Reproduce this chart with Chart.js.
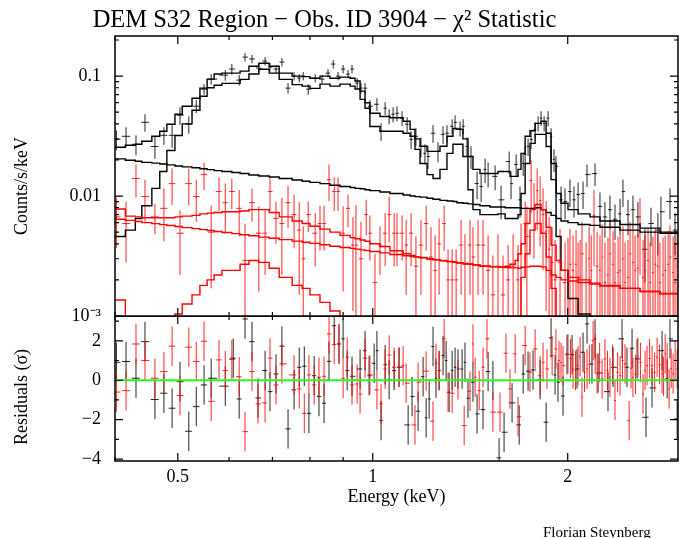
<!DOCTYPE html>
<html>
<head>
<meta charset="utf-8">
<script src="https://cdn.jsdelivr.net/npm/chart.js@4.4.0/dist/chart.umd.min.js"></script>
<style>
  body { margin: 0; background: #fff; }
  #wrap { position: relative; width: 679px; height: 538px; }
  #spec { position: absolute; left: 0; top: 0; }
  #resid { position: absolute; left: 0; top: 316px; }
</style>
</head>
<body>
<div id="wrap">
  <canvas id="spec" width="679" height="332"></canvas>
  <canvas id="resid" width="679" height="222"></canvas>
</div>
<script>
// axis ranges and tick marks
const eMin = 0.4, eMax = 2.96;
const eMajor = [0.5, 1, 2];
const eMinor = [0.4, 0.6, 0.7, 0.8, 0.9, 3];
const rateMajor = [0.001, 0.01, 0.1];
const rateMinor = [0.002, 0.003, 0.004, 0.005, 0.006, 0.007, 0.008, 0.009,
  0.02, 0.03, 0.04, 0.05, 0.06, 0.07, 0.08, 0.09, 0.2];
const resMajor = [-4, -2, 0, 2];
const resMinor = [-3, -1, 1, 3];

// model bin edges (keV)
const modelE = [0.400,0.415,0.430,0.440,0.456,0.469,0.481,0.495,0.508,0.526,0.541,0.555,0.569,0.585,0.606,0.624,0.644,0.667,0.692,0.717,
  0.751,0.778,0.800,0.829,0.859,0.890,0.923,0.939,0.956,0.973,0.990,1.026,1.063,1.114,1.142,1.162,1.183,1.213,1.239,1.270,
  1.302,1.330,1.349,1.378,1.403,1.428,1.464,1.517,1.561,1.601,1.629,1.659,1.676,1.694,1.719,1.749,1.781,1.819,1.852,1.885,
  1.919,1.953,2.002,2.075,2.165,2.243,2.408,2.586,2.776,2.960];

// obs 1 (black): total model, thermal component, power law
const blackTot = [0.0255,0.0265,0.027,0.0286,0.0315,0.0347,0.0397,0.0481,0.0561,0.0654,
  0.0794,0.0944,0.104,0.106,0.106,0.110,0.121,0.128,0.121,0.106,
  0.100,0.099,0.096,0.100,0.096,0.098,0.096,0.091,0.075,0.060,
  0.049,0.046,0.045,0.042,0.036,0.030,0.026,0.0236,0.0236,0.026,
  0.0315,0.0367,0.036,0.030,0.0214,0.0167,0.0154,0.0154,0.016,0.016,
  0.0146,0.0146,0.0167,0.0227,0.0315,0.035,0.0404,0.042,0.0334,0.0187,
  0.0105,0.0087,0.0077,0.0071,0.0067,0.0062,0.0058,0.0054,0.0050];
const blackSrc = [0.0046,0.0052,0.0065,0.0083,0.0116,0.016,0.024,0.032,0.040,0.052,
  0.068,0.080,0.084,0.087,0.087,0.094,0.104,0.114,0.106,0.094,
  0.085,0.0825,0.079,0.0857,0.0825,0.0857,0.0825,0.078,0.064,0.054,
  0.038,0.0347,0.0347,0.0334,0.0315,0.0245,0.0187,0.0151,0.0140,0.0167,
  0.0227,0.027,0.027,0.0214,0.0113,0.0077,0.0070,0.0070,0.0071,0.0065,
  0.0065,0.0065,0.0070,0.0105,0.0187,0.0275,0.0327,0.0327,0.0259,0.0137,
  0.0046,0.0024,0.0014,0.00104,0.0007,0.0004,0.0003,0.0002,0.0001];
const blackBkg = [0.0204,0.0199,0.0195,0.0191,0.0188,0.0185,0.0182,0.0178,0.0175,0.0172,
  0.0169,0.0166,0.0163,0.0160,0.0157,0.0154,0.0150,0.0147,0.0144,0.0140,
  0.0136,0.0133,0.0130,0.0127,0.0123,0.0120,0.0118,0.0116,0.0115,0.0113,
  0.0111,0.0108,0.0105,0.0102,0.0100,0.0099,0.0098,0.0096,0.0094,0.0092,
  0.0091,0.0090,0.0088,0.0087,0.0086,0.0085,0.0083,0.0081,0.0081,0.0080,
  0.0080,0.0080,0.0080,0.0079,0.0079,0.0079,0.0080,0.0077,0.0073,0.0069,
  0.0065,0.0062,0.0060,0.0058,0.0057,0.0055,0.0052,0.0050,0.0049];

// obs 2 (red): total model, thermal component, power law
const redTot = [0.0078,0.0068,0.0067,0.0066,0.0066,0.0066,0.0066,0.0067,0.0068,0.0069,
  0.0071,0.0072,0.0073,0.0074,0.0074,0.0075,0.0077,0.0077,0.0073,0.0067,
  0.0062,0.0059,0.0056,0.0053,0.0050,0.0047,0.0045,0.0044,0.0043,0.0042,
  0.0040,0.0038,0.0035,0.0033,0.0032,0.0031,0.00307,0.0030,0.00295,0.0029,
  0.00285,0.00282,0.00278,0.00274,0.00271,0.00267,0.00261,0.00258,0.00257,0.0026,
  0.0027,0.0029,0.0033,0.0040,0.0059,0.0077,0.0085,0.0077,0.0055,0.0039,
  0.0029,0.0024,0.0021,0.0020,0.00188,0.0018,0.0017,0.0016,0.00154];
const redSrc = [0.00136,0.0006,0.0004,0.0003,0.0003,0.0004,0.0007,0.00104,0.00126,0.0015,
  0.0018,0.0020,0.0022,0.0024,0.0024,0.0027,0.0029,0.0028,0.0025,0.0021,
  0.0018,0.0017,0.0015,0.0013,0.0011,0.0008,0.0006,0.0005,0.0005,0.0004,
  0.0004,0.0003,0.0003,0.0003,0.0003,0.0003,0.0003,0.0003,0.0003,0.0003,
  0.0003,0.0003,0.0003,0.0003,0.0003,0.0003,0.0003,0.0003,0.0003,0.0003,
  0.0003,0.0003,0.0008,0.0021,0.0033,0.0052,0.0059,0.0049,0.0031,0.0017,
  0.0008,0.0004,0.0003,0.0003,0.0003,0.0003,0.0003,0.0003,0.0003];
const redBkg = [0.00641,0.00627,0.00613,0.00601,0.00589,0.00578,0.00568,0.00558,0.00546,0.00535,
  0.00525,0.00516,0.00507,0.00497,0.00486,0.00476,0.00467,0.00455,0.00445,0.00433,
  0.00421,0.00412,0.00403,0.00393,0.00382,0.00373,0.00366,0.00361,0.00356,0.00352,
  0.00345,0.00336,0.00326,0.00318,0.00313,0.00309,0.00305,0.00299,0.00294,0.00289,
  0.00284,0.00281,0.00277,0.00273,0.00270,0.00266,0.00260,0.00257,0.00255,0.00253,
  0.00252,0.00252,0.00250,0.00255,0.00257,0.00260,0.00260,0.00257,0.00240,0.00220,
  0.00210,0.00200,0.00196,0.00190,0.00185,0.00178,0.00170,0.00160,0.00153];

// obs 1 data: bin centre (keV), rate, 1-sigma error
const blackE = [0.402,0.416,0.431,0.445,0.461,0.476,0.490,0.504,0.520,0.534,
  0.549,0.563,0.592,0.606,0.622,0.635,0.651,0.667,0.682,0.694,
  0.709,0.724,0.740,0.756,0.770,0.781,0.795,0.815,0.835,0.853,
  0.869,0.884,0.900,0.916,0.929,0.946,0.959,0.973,0.990,1.015,
  1.030,1.045,1.060,1.075,1.090,1.110,1.130,1.146,1.166,1.187,
  1.204,1.217,1.239,1.261,1.284,1.302,1.326,1.340,1.364,1.379,
  1.398,1.418,1.449,1.470,1.491,1.507,1.545,1.578,1.624,1.635,
  1.665,1.688,1.707,1.719,1.737,1.756,1.781,1.800,1.819,1.839,
  1.865,1.885,1.905,1.918,1.953,1.981,2.016,2.045,2.075,2.112,
  2.142,2.204,2.243,2.283,2.324,2.366,2.409,2.434,2.478,2.522,
  2.567,2.632,2.689,2.756,2.786,2.877,2.929];
const blackRate = [0.0297,0.0315,0.0270,0.0412,0.0259,0.0321,0.0321,0.0472,0.0397,0.0561,
  0.0778,0.0944,0.1019,0.1145,0.0926,0.144,0.139,0.1167,0.1335,0.1189,
  0.1145,0.131,0.0794,0.100,0.0963,0.100,0.0778,0.0963,0.0944,0.1059,
  0.126,0.100,0.1145,0.104,0.1145,0.0874,0.0794,0.0794,0.0561,0.0583,
  0.0347,0.054,0.0463,0.0481,0.049,0.0446,0.0397,0.0297,0.0315,0.0259,
  0.0227,0.0214,0.0334,0.0236,0.0327,0.0334,0.0382,0.0412,0.0367,0.0382,
  0.0259,0.0214,0.0127,0.0120,0.0167,0.0154,0.0146,0.0093,0.0194,0.0127,
  0.0183,0.0093,0.0187,0.0222,0.0259,0.0297,0.036,0.0404,0.0446,0.0404,
  0.0446,0.0315,0.0202,0.0177,0.0093,0.0090,0.0109,0.0093,0.0103,0.0105,
  0.0151,0.0154,0.0082,0.0067,0.0077,0.0064,0.0071,0.0109,0.0070,0.0077,
  0.0067,0.0036,0.0059,0.0052,0.0074,0.0090,0.0052];
const blackErr = [0.0056,0.0060,0.0051,0.0069,0.0055,0.0054,0.0068,0.0079,0.0066,0.0069,
  0.0079,0.0095,0.0103,0.0116,0.0094,0.0115,0.0111,0.0093,0.0107,0.0095,
  0.0092,0.0105,0.0080,0.0080,0.0077,0.0080,0.0079,0.0077,0.0076,0.0085,
  0.0101,0.0080,0.0092,0.0083,0.0092,0.0088,0.0080,0.0080,0.0069,0.0072,
  0.0058,0.0066,0.0067,0.0069,0.0071,0.0064,0.0057,0.0050,0.0053,0.0049,
  0.0043,0.0046,0.0056,0.0045,0.0055,0.0056,0.0055,0.0059,0.0053,0.0055,
  0.0049,0.0046,0.0033,0.0031,0.0039,0.0036,0.0034,0.0029,0.0041,0.0033,
  0.0039,0.0027,0.0040,0.0042,0.0043,0.0050,0.0052,0.0058,0.0064,0.0058,
  0.0064,0.0053,0.0043,0.0038,0.0027,0.0026,0.0028,0.0027,0.0027,0.0027,
  0.0032,0.0033,0.0025,0.0022,0.0024,0.0021,0.0024,0.0028,0.0023,0.0024,
  0.0022,0.0017,0.0021,0.0020,0.0025,0.0026,0.0020];

// obs 2 data
const redE = [0.402,0.416,0.431,0.445,0.461,0.476,0.490,0.504,0.520,0.534,
  0.549,0.563,0.579,0.592,0.606,0.622,0.635,0.651,0.667,0.682,
  0.694,0.709,0.724,0.740,0.756,0.770,0.781,0.795,0.815,0.829,
  0.841,0.856,0.872,0.884,0.900,0.916,0.932,0.942,0.959,0.977,
  0.990,1.008,1.026,1.045,1.060,1.079,1.090,1.110,1.126,1.146,
  1.166,1.187,1.209,1.230,1.248,1.266,1.289,1.307,1.326,1.345,
  1.369,1.388,1.413,1.428,1.454,1.480,1.507,1.533,1.561,1.589,
  1.618,1.647,1.676,1.694,1.719,1.730,1.756,1.774,1.794,1.813,
  1.832,1.852,1.872,1.892,1.912,1.946,1.981,2.002,2.016,2.038,
  2.060,2.075,2.090,2.104,2.135,2.158,2.174,2.196,2.220,2.243,
  2.260,2.283,2.308,2.324,2.350,2.366,2.392,2.409,2.434,2.452,
  2.478,2.496,2.522,2.541,2.567,2.586,2.614,2.632,2.661,2.680,
  2.708,2.729,2.756,2.776,2.807,2.828,2.858,2.877,2.909,2.929,
  2.951];
const redRate = [0.0067,0.0059,0.0140,0.0099,0.0067,0.0079,0.0127,0.0049,0.0127,0.0099,
  0.0151,0.0050,0.0109,0.0088,0.0109,0.0079,0.0029,0.0088,0.0049,0.0049,
  0.0109,0.0065,0.0059,0.0088,0.0070,0.0052,0.0030,0.0070,0.0049,0.0059,
  0.0059,0.0137,0.0109,0.0109,0.0049,0.0079,0.0039,0.0039,0.0030,0.0070,
  0.0049,0.0019,0.0039,0.0049,0.0070,0.0049,0.0049,0.0049,0.0039,0.0049,
  0.0026,0.0039,0.0059,0.0031,0.0024,0.0040,0.0059,0.0020,0.0020,0.0020,
  0.0039,0.0027,0.0039,0.0031,0.0039,0.0039,0.0024,0.0015,0.0026,0.0015,
  0.0020,0.0026,0.0020,0.0033,0.0059,0.0046,0.0135,0.0079,0.0111,0.0092,
  0.0070,0.0051,0.0036,0.0028,0.0020,0.0028,0.0019,0.0022,0.0027,0.0024,
  0.0027,0.0019,0.0021,0.0033,0.0019,0.0030,0.0024,0.0069,0.0026,0.0024,
  0.0031,0.0019,0.0022,0.0033,0.0027,0.0019,0.0023,0.0024,0.0030,0.0019,
  0.0021,0.0033,0.0028,0.0024,0.0025,0.0059,0.0021,0.0024,0.0029,0.0019,
  0.0023,0.0027,0.0026,0.0019,0.0022,0.0024,0.0027,0.0031,0.0023,0.0019,
  0.0026];
const redErr = [0.0030,0.0031,0.0043,0.0038,0.0019,0.0037,0.0043,0.0027,0.0043,0.0038,
  0.0039,0.0033,0.0034,0.0039,0.0031,0.0033,0.0030,0.0027,0.0033,0.0027,
  0.0034,0.0025,0.0037,0.0034,0.0033,0.0037,0.0026,0.0020,0.0023,0.0024,
  0.0024,0.0046,0.0034,0.0034,0.0033,0.0024,0.0028,0.0045,0.0031,0.0023,
  0.0020,0.0014,0.0017,0.0023,0.0029,0.0023,0.0023,0.0020,0.0024,0.0023,
  0.0020,0.0024,0.0024,0.0024,0.0023,0.0025,0.0024,0.0016,0.0016,0.0016,
  0.0024,0.0021,0.0024,0.0024,0.0024,0.0024,0.0023,0.0017,0.0022,0.0017,
  0.0019,0.0022,0.0019,0.0026,0.0031,0.0036,0.0063,0.0049,0.0059,0.0054,
  0.0046,0.0040,0.0031,0.0027,0.0023,0.0025,0.0022,0.0023,0.0026,0.0023,
  0.0025,0.0022,0.0022,0.0028,0.0022,0.0026,0.0023,0.0043,0.0024,0.0023,
  0.0027,0.0022,0.0023,0.0028,0.0024,0.0022,0.0023,0.0023,0.0026,0.0022,
  0.0022,0.0028,0.0025,0.0023,0.0024,0.0037,0.0022,0.0023,0.0025,0.0022,
  0.0023,0.0026,0.0024,0.0022,0.0023,0.0023,0.0024,0.0026,0.0023,0.0022,
  0.0024];

// residuals in sigma
const blackResE = [0.402,0.416,0.431,0.445,0.461,0.476,0.490,0.504,0.520,0.534,
  0.549,0.563,0.592,0.609,0.622,0.635,0.651,0.665,0.682,0.694,
  0.709,0.724,0.740,0.756,0.770,0.784,0.797,0.812,0.826,0.841,
  0.856,0.872,0.887,0.900,0.913,0.929,0.956,0.973,0.987,1.005,
  1.015,1.030,1.045,1.060,1.079,1.098,1.134,1.150,1.175,1.196,
  1.209,1.222,1.239,1.252,1.266,1.284,1.298,1.312,1.326,1.340,
  1.354,1.374,1.388,1.403,1.428,1.449,1.480,1.507,1.533,1.567,
  1.595,1.641,1.683,1.707,1.737,1.768,1.813,1.852,1.885,1.912,
  1.932,1.967,1.995,2.031,2.067,2.112,2.142,2.180,2.204,2.228,
  2.308,2.350,2.426,2.469,2.514,2.559,2.642,2.699,2.797,2.848,
  2.877,2.951];
const blackRes = [0.91,0.95,0.10,1.96,-0.98,-0.66,-1.42,-0.07,-2.59,-1.34,
  -0.24,0.10,-0.30,1.12,-0.95,3.11,1.96,-0.90,0.49,-0.58,
  0.32,1.73,-2.47,-0.49,0.66,0.71,-1.68,0.23,-0.83,-1.17,
  0.96,2.77,1.84,2.10,0.49,0.20,0.57,1.50,0.23,0.86,
  1.50,-2.05,0.79,0.03,0.49,0.66,-2.27,-0.83,-1.57,0.18,
  -1.91,-0.95,1.71,0.10,0.49,1.25,1.00,-0.61,0.49,0.66,
  0.57,0.57,0.91,-0.91,-0.10,-1.71,-1.49,0.44,-0.02,-3.94,
  -2.64,-1.15,-2.27,0.32,0.46,0.52,0.03,-2.13,2.15,0.27,
  -0.10,-0.80,1.30,1.30,0.57,1.42,2.86,0.83,2.10,0.37,
  -0.58,0.66,2.10,0.66,1.62,1.08,-1.88,-0.39,1.50,0.07,
  2.10,-1.96];
const redResE = [0.402,0.416,0.431,0.445,0.461,0.476,0.490,0.504,0.520,0.534,
  0.549,0.563,0.579,0.592,0.606,0.622,0.635,0.651,0.665,0.682,
  0.694,0.709,0.724,0.756,0.770,0.784,0.797,0.812,0.826,0.841,
  0.856,0.872,0.887,0.900,0.913,0.929,0.946,0.956,0.973,0.990,
  1.015,1.030,1.045,1.060,1.079,1.098,1.114,1.126,1.162,1.175,
  1.209,1.239,1.252,1.266,1.289,1.307,1.326,1.354,1.384,1.413,
  1.428,1.439,1.460,1.480,1.501,1.533,1.572,1.606,1.629,1.659,
  1.676,1.719,1.749,1.781,1.813,1.832,1.858,1.892,1.918,1.939,
  1.953,1.967,2.002,2.020,2.038,2.056,2.075,2.090,2.104,2.123,
  2.142,2.160,2.189,2.205,2.220,2.240,2.260,2.283,2.304,2.324,
  2.345,2.366,2.388,2.409,2.430,2.452,2.488,2.505,2.522,2.545,
  2.567,2.590,2.614,2.633,2.652,2.676,2.699,2.724,2.748,2.772,
  2.797,2.812,2.828,2.848,2.868,2.889,2.909,2.930,2.951];
const redRes = [-0.60,-0.53,1.84,1.00,0.10,0.44,1.73,-0.78,1.68,0.95,
  1.98,-1.07,1.03,0.49,1.05,0.18,-2.61,0.44,-1.20,-1.15,
  1.12,-0.24,0.83,0.27,-0.44,-1.68,0.27,-0.24,0.15,0.20,
  2.35,1.81,1.84,0.10,1.17,-0.24,-0.19,-0.70,1.12,0.27,
  -0.49,-1.20,0.57,1.28,0.66,0.66,0.74,-0.15,-2.27,-0.10,
  0.46,-2.08,0.86,0.49,2.10,-0.61,-0.66,0.02,-2.30,-0.56,
  1.84,0.15,-0.53,0.66,2.10,-1.62,-1.62,1.37,-0.44,1.34,
  -1.85,1.76,0.41,1.59,0.23,0.91,0.57,1.25,1.59,1.00,
  0.90,0.74,1.34,1.10,0.57,0.50,0.74,1.20,-0.86,0.40,
  0.57,0.80,2.01,1.30,0.32,0.90,0.07,1.08,0.50,0.15,
  0.80,-1.03,0.40,0.23,1.00,0.83,-2.05,0.60,0.15,0.30,
  1.17,0.90,-0.70,0.50,0.74,1.10,0.74,0.40,1.17,0.80,
  0.32,0.20,1.34,0.90,-0.44,0.60,0.32,1.00,0.57];

Chart.defaults.font.family = "'Liberation Serif', 'Times New Roman', serif";
Chart.defaults.font.size = 18;
Chart.defaults.color = '#000';

// turn bin edges + bin values into a histogram outline
function steps(edges, vals) {
  var pts = [];
  for (var i = 0; i < vals.length; i++) {
    pts.push({x: edges[i], y: vals[i]});
    pts.push({x: edges[i + 1], y: vals[i]});
  }
  return pts;
}

function modelLine(vals, color) {
  return {
    data: steps(modelE, vals),
    borderColor: color,
    borderWidth: 1.4,
    pointRadius: 0,
    fill: false,
    tension: 0
  };
}

// box round the plot area with inward ticks on all four sides
var framePlugin = {
  id: 'frame',
  afterDraw: function(chart, args, o) {
    var ctx = chart.ctx, a = chart.chartArea;
    var xs = chart.scales.x, ys = chart.scales.y;
    ctx.save();
    ctx.strokeStyle = '#000';
    ctx.lineWidth = 1.2;
    ctx.beginPath();
    function tickX(vals, len) {
      vals.forEach(function(v) {
        var px = xs.getPixelForValue(v);
        if (px < a.left - 0.5 || px > a.right + 0.5) return;
        ctx.moveTo(px, a.top); ctx.lineTo(px, a.top + len);
        ctx.moveTo(px, a.bottom); ctx.lineTo(px, a.bottom - len);
      });
    }
    function tickY(vals, len) {
      vals.forEach(function(v) {
        var py = ys.getPixelForValue(v);
        if (py < a.top - 0.5 || py > a.bottom + 0.5) return;
        ctx.moveTo(a.left, py); ctx.lineTo(a.left + len, py);
        ctx.moveTo(a.right, py); ctx.lineTo(a.right - len, py);
      });
    }
    tickX(o.xMajor, 8); tickX(o.xMinor, 4);
    tickY(o.yMajor, 8); tickY(o.yMinor, 4);
    ctx.stroke();
    ctx.lineWidth = 1.5;
    ctx.strokeRect(a.left, a.top, a.right - a.left, a.bottom - a.top);
    ctx.restore();
  }
};

// data points as crosses: bin width across, error bar up/down
var crossPlugin = {
  id: 'crosses',
  beforeDatasetsDraw: function(chart, args, o) {
    var ctx = chart.ctx, a = chart.chartArea;
    var xs = chart.scales.x, ys = chart.scales.y;
    ctx.save();
    ctx.beginPath();
    ctx.rect(a.left, a.top, a.right - a.left, a.bottom - a.top);
    ctx.clip();
    ctx.lineWidth = 1;
    o.sets.forEach(function(s) {
      ctx.strokeStyle = s.color;
      ctx.beginPath();
      s.e.forEach(function(e, i) {
        var prev = i > 0 ? s.e[i - 1] : e * e / s.e[i + 1];
        var next = i < s.e.length - 1 ? s.e[i + 1] : e * e / prev;
        var x0 = xs.getPixelForValue(e * Math.pow(prev / e, 0.42));
        var x1 = xs.getPixelForValue(e * Math.pow(next / e, 0.42));
        var xc = xs.getPixelForValue(e);
        var v = s.y[i], dv = s.err ? s.err[i] : 1;
        var lo = v - dv;
        if (o.log && lo <= 0) lo = 1e-6;
        var yc = ys.getPixelForValue(v);
        ctx.moveTo(x0, yc); ctx.lineTo(x1, yc);
        ctx.moveTo(xc, ys.getPixelForValue(lo)); ctx.lineTo(xc, ys.getPixelForValue(v + dv));
      });
      ctx.stroke();
    });
    ctx.restore();
  }
};

// free text: heading, axis names, signature
var textPlugin = {
  id: 'texts',
  afterDraw: function(chart, args, o) {
    var ctx = chart.ctx;
    o.items.forEach(function(t) {
      ctx.save();
      ctx.fillStyle = '#000';
      ctx.font = t.size + "px 'Liberation Serif', serif";
      ctx.textAlign = t.align;
      ctx.textBaseline = t.rot ? 'middle' : 'alphabetic';
      ctx.translate(t.x, t.y);
      if (t.rot) ctx.rotate(-Math.PI / 2);
      ctx.fillText(t.text, 0, 0);
      ctx.restore();
    });
  }
};

function fixWidth(s) {
  s.width = 115;
  s.paddingTop = 0;
  s.paddingBottom = 0;
}

new Chart(document.getElementById('spec'), {
  type: 'line',
  data: {
    datasets: [
      modelLine(redTot, '#ff0000'),
      modelLine(redSrc, '#ff0000'),
      modelLine(redBkg, '#ff0000'),
      modelLine(blackTot, '#000000'),
      modelLine(blackSrc, '#000000'),
      modelLine(blackBkg, '#000000')
    ]
  },
  plugins: [crossPlugin, framePlugin, textPlugin],
  options: {
    responsive: false,
    animation: false,
    devicePixelRatio: 1,
    layout: { padding: { top: 36, right: 1, bottom: 16, left: 0 } },
    plugins: {
      legend: { display: false },
      tooltip: { enabled: false },
      crosses: {
        log: true,
        sets: [
          { e: blackE, y: blackRate, err: blackErr, color: 'rgba(0,0,0,0.85)' },
          { e: redE, y: redRate, err: redErr, color: 'rgba(255,0,0,0.85)' }
        ]
      },
      frame: { xMajor: eMajor, xMinor: eMinor, yMajor: rateMajor, yMinor: rateMinor },
      texts: {
        items: [
          { text: 'DEM S32 Region \u2212 Obs. ID 3904 \u2212 \u03C7\u00B2 Statistic', x: 324.5, y: 27, size: 24.5, align: 'center' },
          { text: 'Counts/s/keV', x: 22, y: 186, size: 18, align: 'center', rot: true }
        ]
      }
    },
    scales: {
      x: { type: 'logarithmic', min: eMin, max: eMax, display: false },
      y: {
        type: 'logarithmic', min: 0.001, max: 0.216,
        afterFit: fixWidth,
        afterBuildTicks: function(s) { s.ticks = rateMajor.map(function(v) { return {value: v}; }); },
        grid: { display: false, drawTicks: false },
        border: { display: false },
        ticks: {
          padding: 14,
          callback: function(v) { return v === 0.001 ? '10\u207B\u00B3' : String(v); }
        }
      }
    }
  }
});

new Chart(document.getElementById('resid'), {
  type: 'line',
  data: {
    datasets: [{
      data: [{x: eMin, y: 0}, {x: eMax, y: 0}],
      borderColor: '#22ff22',
      borderWidth: 2,
      pointRadius: 0
    }]
  },
  plugins: [crossPlugin, framePlugin, textPlugin],
  options: {
    responsive: false,
    animation: false,
    devicePixelRatio: 1,
    layout: { padding: { top: 0, right: 1, bottom: 0, left: 0 } },
    plugins: {
      legend: { display: false },
      tooltip: { enabled: false },
      crosses: {
        log: false,
        sets: [
          { e: blackResE, y: blackRes, color: 'rgba(0,0,0,0.85)' },
          { e: redResE, y: redRes, color: 'rgba(255,0,0,0.85)' }
        ]
      },
      frame: { xMajor: eMajor, xMinor: eMinor, yMajor: resMajor, yMinor: resMinor },
      texts: {
        items: [
          { text: 'Residuals (\u03C3)', x: 22, y: 81, size: 18, align: 'center', rot: true },
          { text: 'Florian Steynberg', x: 543, y: 221, size: 15, align: 'left' }
        ]
      }
    },
    scales: {
      x: {
        type: 'logarithmic', min: eMin, max: eMax,
        afterFit: function(s) { s.height = 77; },
        afterBuildTicks: function(s) { s.ticks = eMajor.map(function(v) { return {value: v}; }); },
        grid: { display: false, drawTicks: false },
        border: { display: false },
        ticks: { padding: 5, maxRotation: 0, autoSkip: false, callback: function(v) { return String(v); } },
        title: { display: true, text: 'Energy (keV)', padding: { top: 0, bottom: 30 } }
      },
      y: {
        type: 'linear', min: -4.1, max: 3.26,
        afterFit: fixWidth,
        afterBuildTicks: function(s) { s.ticks = resMajor.map(function(v) { return {value: v}; }); },
        grid: { display: false, drawTicks: false },
        border: { display: false },
        ticks: {
          padding: 14,
          callback: function(v) { return v < 0 ? '\u2212' + Math.abs(v) : String(v); }
        }
      }
    }
  }
});
</script>
</body>
</html>
